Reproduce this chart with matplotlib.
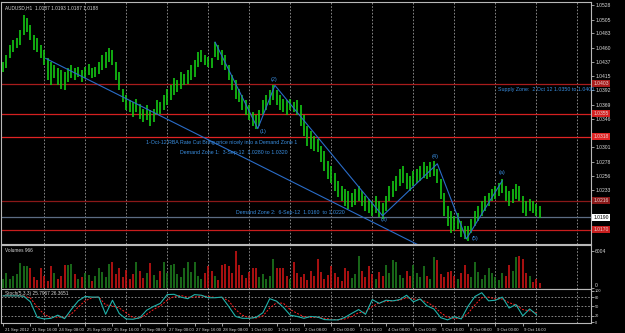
import matplotlib
matplotlib.use("Agg")
import matplotlib.pyplot as plt
import matplotlib.transforms as mtransforms
import numpy as np

plt.rcParams["font.family"] = ["Liberation Sans", "DejaVu Sans"]

# ---------------------------------------------------------------------------
# data (AUDUSD H1, drawn here as 2-hour bars)
SYMBOL_INFO = "AUDUSD,H1  1.0187 1.0193 1.0187 1.0188"

bar_high = [
    1.0437, 1.0448, 1.0464, 1.0472, 1.0475, 1.0488, 1.0512, 1.0507, 1.0496, 1.0480,
    1.0475, 1.0464, 1.0456, 1.0443, 1.0437, 1.0432, 1.0427, 1.0424, 1.0421, 1.0427,
    1.0432, 1.0427, 1.0430, 1.0424, 1.0430, 1.0434, 1.0427, 1.0430, 1.0437, 1.0448,
    1.0453, 1.0459, 1.0456, 1.0437, 1.0421, 1.0395, 1.0384, 1.0376, 1.0373, 1.0379,
    1.0370, 1.0363, 1.0368, 1.0360, 1.0363, 1.0376, 1.0373, 1.0384, 1.0395, 1.0400,
    1.0411, 1.0408, 1.0421, 1.0418, 1.0424, 1.0432, 1.0440, 1.0453, 1.0456, 1.0448,
    1.0446, 1.0443, 1.0469, 1.0464, 1.0456, 1.0448, 1.0432, 1.0416, 1.0408, 1.0395,
    1.0384, 1.0376, 1.0368, 1.0357, 1.0352, 1.0360, 1.0376, 1.0384, 1.0392, 1.0400,
    1.0392, 1.0384, 1.0379, 1.0376, 1.0379, 1.0373, 1.0376, 1.0368, 1.0352, 1.0336,
    1.0328, 1.0320, 1.0315, 1.0304, 1.0296, 1.0280, 1.0272, 1.0261, 1.0248, 1.0240,
    1.0235, 1.0232, 1.0229, 1.0235, 1.0240, 1.0232, 1.0224, 1.0219, 1.0216, 1.0224,
    1.0216, 1.0213, 1.0224, 1.0240, 1.0248, 1.0256, 1.0267, 1.0272, 1.0261, 1.0256,
    1.0264, 1.0267, 1.0272, 1.0277, 1.0272, 1.0277, 1.0280, 1.0267, 1.0251, 1.0229,
    1.0208, 1.0200, 1.0192, 1.0197, 1.0184, 1.0176, 1.0176, 1.0187, 1.0200, 1.0208,
    1.0216, 1.0224, 1.0229, 1.0235, 1.0240, 1.0245, 1.0251, 1.0240, 1.0232, 1.0235,
    1.0243, 1.0240, 1.0224, 1.0216, 1.0219, 1.0216, 1.0211, 1.0208,
]
bar_low = [
    1.0421, 1.0427, 1.0443, 1.0453, 1.0459, 1.0464, 1.0480, 1.0485, 1.0472, 1.0456,
    1.0453, 1.0443, 1.0432, 1.0408, 1.0400, 1.0411, 1.0400, 1.0395, 1.0392, 1.0405,
    1.0411, 1.0408, 1.0414, 1.0405, 1.0411, 1.0416, 1.0411, 1.0414, 1.0418, 1.0424,
    1.0427, 1.0437, 1.0432, 1.0408, 1.0392, 1.0373, 1.0360, 1.0357, 1.0350, 1.0357,
    1.0347, 1.0341, 1.0344, 1.0336, 1.0341, 1.0352, 1.0354, 1.0360, 1.0368, 1.0376,
    1.0384, 1.0389, 1.0395, 1.0400, 1.0402, 1.0408, 1.0414, 1.0430, 1.0437, 1.0432,
    1.0430, 1.0427, 1.0446, 1.0440, 1.0432, 1.0424, 1.0408, 1.0392, 1.0379, 1.0373,
    1.0360, 1.0352, 1.0344, 1.0336, 1.0331, 1.0336, 1.0352, 1.0360, 1.0368, 1.0376,
    1.0368, 1.0360, 1.0357, 1.0352, 1.0360, 1.0357, 1.0352, 1.0336, 1.0320, 1.0304,
    1.0299, 1.0296, 1.0293, 1.0277, 1.0264, 1.0251, 1.0245, 1.0232, 1.0222, 1.0216,
    1.0208, 1.0203, 1.0206, 1.0210, 1.0216, 1.0208, 1.0200, 1.0197, 1.0192, 1.0197,
    1.0190, 1.0187, 1.0200, 1.0216, 1.0222, 1.0232, 1.0240, 1.0245, 1.0235, 1.0232,
    1.0240, 1.0245, 1.0248, 1.0253, 1.0251, 1.0254, 1.0256, 1.0245, 1.0219, 1.0192,
    1.0176, 1.0165, 1.0168, 1.0171, 1.0158, 1.0155, 1.0152, 1.0165, 1.0176, 1.0184,
    1.0192, 1.0200, 1.0208, 1.0216, 1.0219, 1.0224, 1.0229, 1.0216, 1.0208, 1.0213,
    1.0219, 1.0216, 1.0197, 1.0192, 1.0200, 1.0197, 1.0192, 1.0189,
]
volumes = [
    1500, 2500, 1400, 1900, 2200, 4000, 3500, 3600, 3300, 1800,
    1300, 3250, 2000, 1200, 3500, 2400, 1500, 1900, 3750, 3700,
    3800, 2200, 1400, 1700, 2500, 2100, 1200, 1900, 3250, 2600,
    1800, 3800, 4200, 2300, 3250, 1700, 2900, 1500, 2200, 4250,
    2700, 1600, 2400, 4000, 2100, 1300, 2800, 4250, 2500, 3700,
    3800, 2200, 1800, 3300, 4200, 2600, 4250, 1900, 1500, 2400,
    3500, 2800, 2000, 1300, 3700, 3800, 3600, 2400, 6000, 3750,
    2100, 1600, 2600, 3300, 3200, 1800, 2300, 1400, 2000, 4750,
    3200, 3300, 3200, 2000, 1500, 4250, 2500, 1700, 2200, 1300,
    2700, 1900, 4750, 2600, 1500, 2100, 3500, 2400, 1800, 1200,
    3250, 2700, 1600, 2200, 5250, 2800, 1700, 3500, 2300, 1500,
    2600, 1900, 3750, 2400, 4500, 4250, 2100, 1600, 2700, 1900,
    3750, 2500, 1800, 3500, 2000, 1400, 5000, 4500, 2300, 1700,
    2600, 2750, 2000, 1500, 2400, 3750, 2200, 1800, 4250, 2600,
    1500, 2100, 3250, 2400, 1800, 1300, 2500, 2000, 3750, 2700,
    5000, 5250, 4750, 2500, 1900, 1000, 1500, 800,
]
# stochastic, one value every 4 hours
stoch_main = [
    84, 84, 84, 83, 65, 15, 10, 12, 22, 11, 41, 68, 82, 80, 80, 25, 70, 27, 10, 9,
    14, 38, 50, 60, 88, 89, 80, 75, 88, 86, 78, 78, 80, 50, 18, 12, 12, 15, 30, 75,
    67, 47, 22, 18, 12, 18, 16, 8, 7, 7, 15, 28, 40, 25, 72, 60, 70, 68, 72, 86,
    65, 74, 52, 42, 14, 7, 17, 10, 51, 82, 94, 68, 70, 80, 45, 56, 20, 42, 24,
]
stoch_signal = [
    84, 84, 84, 84, 77, 48, 25, 14, 16, 15, 26, 48, 68, 78, 80, 55, 52, 45, 30, 14,
    12, 25, 40, 52, 70, 82, 85, 80, 80, 84, 82, 79, 79, 68, 40, 22, 14, 13, 20, 45,
    62, 60, 40, 28, 17, 15, 15, 12, 9, 7, 10, 18, 30, 32, 50, 62, 66, 68, 70, 78,
    74, 72, 64, 50, 30, 15, 12, 12, 28, 55, 78, 80, 74, 74, 62, 55, 40, 36, 30,
]

time_labels = [
    "21 Sep 2012", "21 Sep 16:00", "24 Sep 08:00", "25 Sep 00:00", "25 Sep 16:00",
    "26 Sep 08:00", "27 Sep 00:00", "27 Sep 16:00", "28 Sep 08:00", "1 Oct 00:00",
    "1 Oct 16:00", "2 Oct 08:00", "3 Oct 00:00", "3 Oct 16:00", "4 Oct 08:00",
    "5 Oct 00:00", "5 Oct 16:00", "8 Oct 08:00", "9 Oct 00:00", "9 Oct 16:00",
]
price_ticks = [1.0528, 1.0505, 1.0483, 1.0460, 1.0437, 1.0415, 1.0392, 1.0369, 1.0346,
               1.0324, 1.0301, 1.0278, 1.0256, 1.0233, 1.0210, 1.0187, 1.0165]

zone_levels = [1.0403, 1.0355, 1.0318, 1.0216, 1.0170]
zone_colors = ["#a81c1c", "#d42020", "#e02424", "#8a1818", "#c81e1e"]
current_price = 1.0190

trend_hours = [25, 244]
trend_prices = [1.0443, 1.0144]
wave_hours = [124, 149, 159, 222, 254, 271, 292]
wave_prices = [1.0469, 1.0331, 1.0400, 1.0192, 1.0275, 1.0155, 1.0248]
wave_names = ["(1)", "(2)", "(3)", "(4)", "(5)", "(a)"]
wave_name_hours = [152, 158.5, 223, 253, 276, 292]
wave_name_prices = [1.0326, 1.0410, 1.0186, 1.0286, 1.0155, 1.0261]

notes = [
    (289.5, 1.0394, "Supply Zone:  2 Oct 12 1.0350 to 1.0400."),
    (83.6, 1.0309, "1-Oct-12 RBA Rate Cut Bring price nicely into a Demand Zone 1"),
    (103.5, 1.0293, "Demand Zone 1:  3-Sep-12  1.0280 to 1.0320"),
    (136.0, 1.0197, "Demand Zone 2:  6-Sep-12  1.0160  to 1.0220"),
]

# ---------------------------------------------------------------------------
W, H = 625, 333
fig = plt.figure(figsize=(W / 100, H / 100), dpi=100, facecolor="black")


def px_axes(x0, y0, x1, y1):
    a = fig.add_axes([x0 / W, 1 - y1 / H, (x1 - x0) / W, (y1 - y0) / H])
    a.set_facecolor("black")
    for s in a.spines.values():
        s.set_color("#b8b8b8")
        s.set_linewidth(0.8)
    return a


ax = px_axes(1, 2, 591, 244)
axv = px_axes(1, 245, 591, 289)
axs = px_axes(1, 289, 591, 323)

FS = 3.6
TXT = "#d8d8d8"
BLUE = "#3a8ee0"
XLIM = (-1.2, 343.9)

bar_hours = np.arange(len(bar_high)) * 2
stoch_hours = np.arange(len(stoch_main)) * 4
label_hours = np.arange(len(time_labels)) * 16

for a in (ax, axv, axs):
    a.set_xlim(*XLIM)
    for h in range(24, 344, 24):
        a.axvline(h, color="#9a9a9a", ls=(0, (2, 2)), lw=0.6, zorder=0)
    a.yaxis.tick_right()
    a.tick_params(axis="y", colors=TXT, labelsize=FS, length=2, width=0.5, pad=1)

# price panel
ax.vlines(bar_hours, bar_low, bar_high, color="#14c814", lw=1.2, zorder=3)
ax.set_ylim(1.0147, 1.0533)

ytr = mtransforms.blended_transform_factory(ax.transAxes, ax.transData)
for lvl, c in zip(zone_levels, zone_colors):
    ax.axhline(lvl, color=c, lw=0.9, zorder=2)
    ax.text(1.004, lvl, f"{lvl:.4f}", transform=ytr, ha="left", va="center",
            fontsize=FS, color="#e8d0d0", clip_on=False,
            bbox=dict(boxstyle="square,pad=0.2", fc=c, ec="none"))
ax.axhline(current_price, color="#5c6c84", lw=0.9, zorder=2)
ax.text(1.004, current_price, f"{current_price:.4f}", transform=ytr, ha="left",
        va="center", fontsize=FS, color="black", clip_on=False,
        bbox=dict(boxstyle="square,pad=0.2", fc="white", ec="none"))

marked = zone_levels + [current_price]
shown = [t for t in price_ticks if min(abs(t - m) for m in marked) > 0.0008]
ax.set_yticks(shown)
ax.set_yticklabels([f"{t:.4f}" for t in shown])
ax.tick_params(axis="x", bottom=False, labelbottom=False)

ax.plot(trend_hours, trend_prices, color="#2a6cc8", lw=0.8, zorder=4)
ax.plot(wave_hours, wave_prices, color="#2a6cc8", lw=0.8, zorder=4)
for h, p, name in zip(wave_name_hours, wave_name_prices, wave_names):
    ax.text(h, p, name, color=BLUE, fontsize=FS + 0.4, ha="center", va="center", zorder=5)
for h, p, s in notes:
    ax.text(h, p, s, color=BLUE, fontsize=FS + 0.2, ha="left", va="center", zorder=5)

ax.text(0.006, 0.985, SYMBOL_INFO, transform=ax.transAxes, va="top", ha="left",
        fontsize=FS - 0.2, color=TXT)

# volume panel
mids = (np.array(bar_high) + np.array(bar_low)) / 2
vol_colors = ["#1e7a1e" if i == 0 or mids[i] >= mids[i - 1] else "#c81414"
              for i in range(len(volumes))]
axv.vlines(bar_hours, 0, volumes, colors=vol_colors, lw=1.2)
axv.set_ylim(-160, 6950)
axv.set_yticks([0, 6004])
axv.set_yticklabels(["0", "6004"])
axv.tick_params(axis="x", bottom=False, labelbottom=False)
up = mtransforms.ScaledTranslation(0, 3 / 100, fig.dpi_scale_trans)
axv.get_yticklabels()[0].set_transform(axv.get_yticklabels()[0].get_transform() + up)
axv.text(0.006, 0.93, "Volumes 966", transform=axv.transAxes, va="top", ha="left",
         fontsize=FS - 0.2, color=TXT)

# stochastic panel
for lv in (80, 50, 20):
    axs.axhline(lv, color="#9a9a9a", ls=(0, (2, 2)), lw=0.6, zorder=0)
axs.plot(stoch_hours, stoch_main, color="#20b2aa", lw=0.8, zorder=3)
axs.plot(stoch_hours, stoch_signal, color="#ff2020", lw=0.7, ls=(0, (2, 1.5)), zorder=2)
axs.set_ylim(-3, 106)
axs.set_yticks([0, 20, 50, 80, 100])
axs.set_yticklabels(["0", "20", "50", "80", "100"])
axs.tick_params(axis="y", labelsize=2.8, pad=1)
axs.text(0.006, 0.93, "Stoch(5,3,3) 25.7967 26.3651", transform=axs.transAxes,
         va="top", ha="left", fontsize=FS - 0.2, color=TXT)

axs.set_xticks(label_hours)
axs.set_xticklabels(time_labels, ha="left")
axs.tick_params(axis="x", colors=TXT, labelsize=3.1, length=2, width=0.5, pad=1.5)
shift = mtransforms.ScaledTranslation(1.5 / 100, 0, fig.dpi_scale_trans)
for lab in axs.get_xticklabels():
    lab.set_transform(lab.get_transform() + shift)

fig.savefig("out.png", dpi=100, facecolor="black")
